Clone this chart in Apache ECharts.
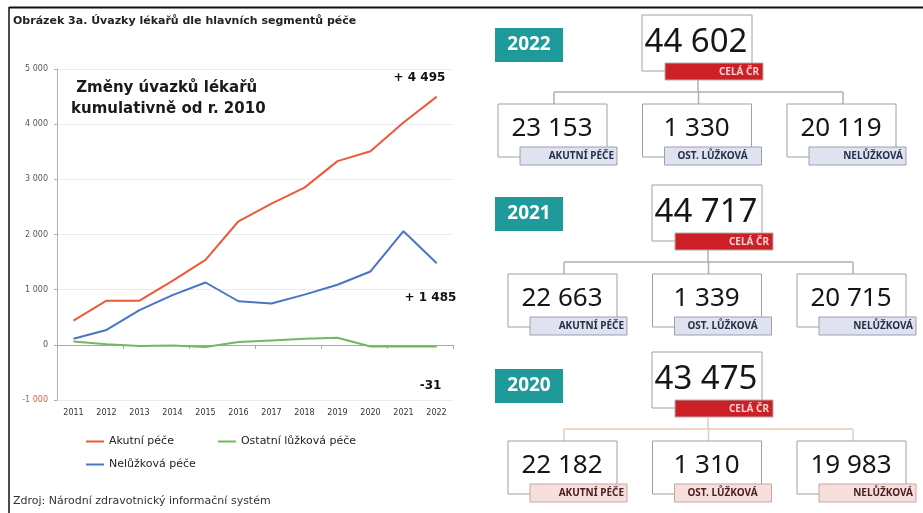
<!DOCTYPE html>
<html>
<head>
<meta charset="utf-8">
<script src="https://cdn.jsdelivr.net/npm/echarts@6/dist/echarts.min.js"></script>
<style>
  html, body { margin: 0; padding: 0; background: #fff; }
  #chart { width: 923px; height: 513px; }
</style>
</head>
<body>
<div id="chart"></div>
<script>
// ---- data: cumulative change in physician FTEs since 2010 ----
const years = ['2011','2012','2013','2014','2015','2016','2017','2018','2019','2020','2021','2022'];
const acuteCare = [440, 800, 800, 1160, 1540, 2240, 2560, 2850, 3330, 3510, 4030, 4495];
const otherBedCare = [60, 10, -20, -10, -40, 50, 80, 110, 130, -30, -30, -31];
const nonBedCare = [110, 270, 630, 900, 1130, 790, 750, 910, 1090, 1330, 2060, 1485];
const seriesNames = ['Akutní péče', 'Ostatní lůžková péče', 'Nelůžková péče'];
const yTicks = [-1000, 0, 1000, 2000, 3000, 4000, 5000];

// ---- data: physician FTEs by segment, selected years ----
const panelYears = ['2022', '2021', '2020'];
const totalsCR = [44602, 44717, 43475];
const acuteTotals = [23153, 22663, 22182];
const otherBedTotals = [1330, 1339, 1310];
const nonBedTotals = [20119, 20715, 19983];
const segmentTags = ['AKUTNÍ PÉČE', 'OST. LŮŽKOVÁ', 'NELŮŽKOVÁ'];
const totalTag = 'CELÁ ČR';

// ---- layout of the right-hand diagrams ----
const blockTop = [15, 185, 352];
const blockShift = [0, 10, 10];
const badgeTop = [28, 197, 369];

const fmt = n => String(n).replace(/\B(?=(\d{3})+(?!\d))/g, ' ');
const signed = n => (n > 0 ? '+ ' : '') + fmt(n);

const colors = { acute: '#ec5a3c', other: '#72b85e', nonBed: '#4a74c4' };
const FONT = 'DejaVu Sans';
const NUMFONT = 'Noto Sans';

// only the final point of each line carries a (tiny) symbol with its value label
function lastLabel(values, offset) {
  return values.map((v, i) => i === values.length - 1 ? {
    value: v,
    symbol: 'circle',
    symbolSize: 1,
    label: {
      show: true, formatter: signed(v), position: 'top', offset: offset,
      fontFamily: FONT, fontWeight: 'bold', fontSize: 12, color: '#111'
    }
  } : { value: v, symbol: 'none' });
}

const graphics = [];
// frame
graphics.push({ type: 'line', shape: { x1: 9, y1: 7.5, x2: 923, y2: 7.5 }, style: { stroke: '#111', lineWidth: 2 } });
graphics.push({ type: 'line', shape: { x1: 9, y1: 7, x2: 9, y2: 513 }, style: { stroke: '#111', lineWidth: 1.5 } });

function txt(x, y, text, o) {
  return {
    type: 'text', x: x, y: y, z: o.z || 10,
    style: Object.assign({
      text: text, fill: '#222', fontFamily: o.family || NUMFONT,
      fontSize: o.size || 12, fontWeight: o.weight || 'normal',
      textAlign: o.align || 'center', textVerticalAlign: 'middle',
      align: o.align || 'center', verticalAlign: 'middle'
    }, o.fill ? { fill: o.fill } : {})
  };
}
function rect(x, y, w, h, fill, stroke, z) {
  return { type: 'rect', z: z || 5, shape: { x: x, y: y, width: w, height: h },
    style: { fill: fill, stroke: stroke, lineWidth: stroke ? 1 : 0 } };
}
function seg(x1, y1, x2, y2, stroke) {
  return { type: 'line', z: 3, shape: { x1: x1, y1: y1, x2: x2, y2: y2 }, style: { stroke: stroke, lineWidth: 1.5 } };
}

panelYears.forEach((yr, b) => {
  const top = blockTop[b], dx = blockShift[b];
  const is2020 = yr === '2020';
  const lineCol = is2020 ? '#e8cdb4' : '#b0b0b0';
  const tagFill = is2020 ? '#f7dfdc' : '#dfe2ef';
  const tagStroke = is2020 ? '#c4a6a2' : '#9c9fb0';
  const tagText = is2020 ? '#4a2020' : '#26304a';

  // year badge
  graphics.push(rect(495, badgeTop[b], 68, 34, '#1f9a9b', null, 6));
  graphics.push(txt(529, badgeTop[b] + 17, yr, { size: 19, weight: 'bold', fill: '#ffffff' }));

  // national total
  const tx = 642 + dx;
  graphics.push(rect(tx, top, 110, 56, '#ffffff', '#a0a0a0', 5));
  graphics.push(txt(tx + 54, top + 28, fmt(totalsCR[b]), { size: 33, fill: '#161616' }));
  graphics.push(rect(tx + 23, top + 48, 98, 17, '#cc1f26', '#b0b0b0', 7));
  graphics.push(txt(tx + 117, top + 57, totalTag, { size: 10, weight: 'bold', fill: '#f6d2d2', align: 'right' }));

  // connectors
  const cy = top + 77;
  const childY = top + 89;
  const childX = [498 + dx, 642.5 + dx, 787 + dx];
  graphics.push(seg(tx + 56, top + 65, tx + 56, cy, lineCol));
  graphics.push(seg(childX[0] + 56, cy, childX[2] + 56, cy, lineCol));
  childX.forEach(x => graphics.push(seg(x + 56, cy, x + 56, childY, lineCol)));

  // segment boxes
  const vals = [acuteTotals[b], otherBedTotals[b], nonBedTotals[b]];
  childX.forEach((x, k) => {
    graphics.push(rect(x, childY, 109, 53, '#ffffff', '#a0a0a0', 5));
    graphics.push(txt(x + 54, childY + 25, fmt(vals[k]), { size: 26, fill: '#161616' }));
    graphics.push(rect(x + 22, childY + 43, 97, 18, tagFill, tagStroke, 7));
    if (k === 1) {
      graphics.push(txt(x + 70, childY + 52, segmentTags[k], { size: 10, weight: 'bold', fill: tagText }));
    } else {
      graphics.push(txt(x + 116, childY + 52, segmentTags[k], { size: 10, weight: 'bold', fill: tagText, align: 'right' }));
    }
  });
});

const chart = echarts.init(document.getElementById('chart'), null, { renderer: 'canvas' });
chart.setOption({
  animation: false,
  backgroundColor: '#ffffff',
  title: [
    { text: 'Obrázek 3a. Úvazky lékařů dle hlavních segmentů péče', left: 13, top: 16, padding: 0,
      textStyle: { fontFamily: FONT, fontSize: 11, fontWeight: 'bold', color: '#222' } },
    { text: ' Změny úvazků lékařů\nkumulativně od r. 2010', left: 71, top: 78, padding: 0,
      textStyle: { fontFamily: FONT, fontSize: 15, fontWeight: 'bold', color: '#1a1a1a', lineHeight: 21 } },
    { text: 'Zdroj: Národní zdravotnický informační systém', left: 13, top: 496, padding: 0,
      textStyle: { fontFamily: FONT, fontSize: 11, fontWeight: 'normal', color: '#333' } }
  ],
  grid: { left: 57, right: 470, top: 69, bottom: 113, containLabel: false },
  legend: [
    { data: [seriesNames[0], seriesNames[1]], left: 86, top: 436, padding: 0, itemWidth: 18, itemHeight: 2, itemGap: 44,
      icon: 'rect', textStyle: { fontFamily: FONT, fontSize: 11, color: '#222' } },
    { data: [seriesNames[2]], left: 86, top: 459, padding: 0, itemWidth: 18, itemHeight: 2,
      icon: 'rect', textStyle: { fontFamily: FONT, fontSize: 11, color: '#222' } }
  ],
  xAxis: [
    { type: 'category', data: years, position: 'bottom', boundaryGap: true,
      axisLine: { show: false, onZero: false }, axisTick: { show: false },
      axisLabel: { fontFamily: FONT, fontSize: 8, color: '#333', margin: 9 } },
    { type: 'category', data: years, position: 'bottom', boundaryGap: true,
      axisLine: { show: true, onZero: true, lineStyle: { color: '#a8a8a8', width: 1 } },
      axisTick: { show: true, length: 4, lineStyle: { color: '#a8a8a8' } },
      axisLabel: { show: false } }
  ],
  yAxis: {
    type: 'value', min: yTicks[0], max: yTicks[yTicks.length - 1], interval: 1000,
    axisLine: { show: true, lineStyle: { color: '#b0b0b0' } },
    axisTick: { show: true, length: 3, lineStyle: { color: '#b0b0b0' } },
    splitLine: { show: true, lineStyle: { color: '#ececec', width: 1 } },
    axisLabel: {
      fontFamily: FONT, fontSize: 8, color: '#555', margin: 9,
      formatter: v => v < 0 ? '{neg|' + fmt(v) + '}' : fmt(v),
      rich: { neg: { fontFamily: FONT, fontSize: 8, color: '#e05a40' } }
    }
  },
  series: [
    { name: seriesNames[0], type: 'line', data: lastLabel(acuteCare, [-17, -7]), symbol: 'circle', symbolSize: 1,
      lineStyle: { width: 2, color: colors.acute }, itemStyle: { color: colors.acute } },
    { name: seriesNames[1], type: 'line', data: lastLabel(otherBedCare, [-6, 51]), symbol: 'circle', symbolSize: 1,
      lineStyle: { width: 2, color: colors.other }, itemStyle: { color: colors.other } },
    { name: seriesNames[2], type: 'line', data: lastLabel(nonBedCare, [-6, 46]), symbol: 'circle', symbolSize: 1,
      lineStyle: { width: 2, color: colors.nonBed }, itemStyle: { color: colors.nonBed } }
  ],
  graphic: graphics
});
</script>
</body>
</html>
